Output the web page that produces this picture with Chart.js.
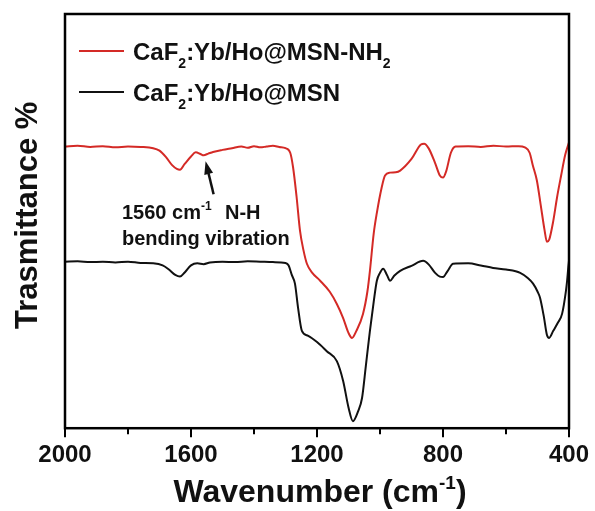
<!DOCTYPE html>
<html>
<head>
<meta charset="utf-8">
<script src="https://cdn.jsdelivr.net/npm/chart.js@4/dist/chart.umd.min.js"></script>
<style>
html,body{margin:0;padding:0;background:#fff;}
#wrap{width:595px;height:511px;position:relative;}
</style>
</head>
<body>
<div id="wrap"><canvas id="c" width="595" height="511"></canvas></div>
<script>
// ---- data (wavenumber in cm^-1, transmittance in arbitrary offset units) ----
const redWavenumbers = [2000,1960,1920,1880,1840,1800,1760,1720,1700,1680,1660,1645,1635,1620,1600,1585,1570,1560,1545,1530,1500,1470,1440,1420,1400,1380,1360,1340,1320,1300,1285,1276,1265,1254,1243,1232,1215,1190,1160,1137,1117,1100,1089,1075,1054,1040,1032,1020,1010,995,984,968,950,936,900,870,860,845,825,810,800,790,775,760,720,680,640,600,560,540,525,515,502,490,478,470,463,450,438,425,412,403,400];
const redValues      = [68.0,68.2,67.9,68.1,67.8,68.0,67.9,67.6,67.0,65.5,63.5,62.6,62.4,63.8,65.6,66.6,66.2,65.9,66.3,66.7,67.2,67.6,68.0,67.7,68.1,67.8,68.0,68.2,67.9,67.6,66.5,63.0,56.0,47.7,43.0,39.7,37.5,35.6,33.0,30.0,26.6,23.0,21.8,23.5,27.6,33.0,38.0,47.0,52.0,58.0,61.0,61.7,61.8,62.2,65.0,68.5,68.7,67.5,64.0,61.0,60.5,62.0,66.5,68.0,68.1,67.9,68.2,68.0,68.1,67.8,66.5,63.5,59.8,54.0,48.0,45.0,45.5,50.0,55.7,61.0,66.0,68.3,69.0];

const blackWavenumbers = [2000,1960,1920,1880,1840,1800,1760,1720,1690,1670,1650,1635,1620,1600,1580,1560,1540,1500,1460,1420,1380,1340,1300,1290,1280,1270,1260,1248,1228,1200,1169,1137,1117,1100,1086,1070,1057,1045,1032,1020,1010,1000,990,978,968,955,936,900,863,845,825,810,800,785,768,720,680,641,600,555,530,514,500,492,480,470,463,450,435,422,410,406,402,400];
const blackValues      = [40.2,40.3,40.1,40.2,40.0,40.2,39.9,39.8,39.3,38.3,37.0,36.6,37.6,39.3,39.8,39.6,40.0,40.2,40.1,40.3,40.2,40.1,39.9,39.3,37.0,34.9,29.0,23.5,22.3,20.8,18.6,16.2,11.4,5.0,1.7,4.0,7.3,15.0,23.5,30.5,35.6,37.5,38.5,37.0,35.6,36.8,38.0,39.2,40.4,39.5,37.5,36.6,36.5,38.0,39.7,39.8,39.3,38.7,38.3,37.5,36.2,34.9,33.0,31.5,27.0,22.5,21.8,23.5,25.5,27.6,33.0,35.6,39.0,40.4];

const xMajorTicks = [2000,1600,1200,800,400];
const xMinorTicks = [1800,1400,1000,600];
const annotationWavenumber = 1560;
const yTitle = 'Trasmittance %';

const FONT = '"Liberation Sans", Arial, sans-serif';
const RED = '#d42a26';
const BLACK = '#111111';

function toPoints(xs, ys){ return xs.map((x,i)=>({x:x,y:ys[i]})); }

function drawRich(ctx, parts, x, y){
  let cx = x;
  for (const p of parts){
    ctx.font = 'bold ' + p.size + 'px ' + FONT;
    ctx.fillText(p.t, cx, y + (p.dy||0));
    cx += ctx.measureText(p.t).width + (p.gap||0);
  }
  return cx;
}
function richWidth(ctx, parts){
  let w=0;
  for (const p of parts){ ctx.font = 'bold ' + p.size + 'px ' + FONT; w += ctx.measureText(p.t).width + (p.gap||0); }
  return w;
}

const decor = {
  id: 'decor',
  afterDraw(chart){
    const ctx = chart.ctx;
    const a = chart.chartArea;
    const xs = chart.scales.x;
    const ys = chart.scales.y;
    ctx.save();
    // frame
    ctx.strokeStyle = '#000';
    ctx.lineWidth = 2.5;
    ctx.strokeRect(a.left, a.top, a.right - a.left, a.bottom - a.top);
    // minor ticks
    ctx.lineWidth = 2;
    ctx.beginPath();
    for (const v of xMinorTicks){
      const px = Math.round(xs.getPixelForValue(v));
      ctx.moveTo(px, a.bottom); ctx.lineTo(px, a.bottom + 6);
    }
    ctx.stroke();

    ctx.fillStyle = '#111';
    ctx.textBaseline = 'alphabetic';
    ctx.textAlign = 'left';

    // legend
    const legend = [
      {color: RED, y: 51, parts: [{t:'CaF',size:24},{t:'2',size:14,dy:8},{t:':Yb/Ho@MSN-NH',size:24},{t:'2',size:14,dy:8}]},
      {color: BLACK, y: 92, parts: [{t:'CaF',size:24},{t:'2',size:14,dy:8},{t:':Yb/Ho@MSN',size:24}]}
    ];
    for (const item of legend){
      ctx.strokeStyle = item.color;
      ctx.lineWidth = 2;
      ctx.beginPath(); ctx.moveTo(79, item.y); ctx.lineTo(124, item.y); ctx.stroke();
      ctx.fillStyle = '#111';
      drawRich(ctx, item.parts, 133, item.y + 8.5);
    }

    // annotation text
    ctx.fillStyle = '#111';
    drawRich(ctx, [{t:'1560 cm',size:20},{t:'-1',size:12,dy:-9}], 122, 219);
    drawRich(ctx, [{t:'N-H',size:20}], 225, 219);
    drawRich(ctx, [{t:'bending vibration',size:20}], 122, 245);

    // arrow pointing at the 1560 feature of the red curve
    const tipX = xs.getPixelForValue(annotationWavenumber) + 2;
    const tipY = ys.getPixelForValue(redValues[redWavenumbers.indexOf(annotationWavenumber)]) + 6;
    const tailX = tipX + 8, tailY = tipY + 33;
    const ang = Math.atan2(tipY - tailY, tipX - tailX);
    ctx.strokeStyle = '#111'; ctx.lineWidth = 2.5;
    ctx.beginPath(); ctx.moveTo(tailX, tailY);
    ctx.lineTo(tipX - 10*Math.cos(ang), tipY - 10*Math.sin(ang)); ctx.stroke();
    ctx.beginPath();
    ctx.moveTo(tipX, tipY);
    ctx.lineTo(tipX - 13*Math.cos(ang) + 4.5*Math.sin(ang), tipY - 13*Math.sin(ang) - 4.5*Math.cos(ang));
    ctx.lineTo(tipX - 13*Math.cos(ang) - 4.5*Math.sin(ang), tipY - 13*Math.sin(ang) + 4.5*Math.cos(ang));
    ctx.closePath(); ctx.fill();

    // x axis title with superscript
    const tparts = [{t:'Wavenumber (cm',size:32},{t:'-1',size:19,dy:-13},{t:')',size:32}];
    const w = richWidth(ctx, tparts);
    drawRich(ctx, tparts, 320 - w/2, 502);

    // y axis title (rotated)
    ctx.save();
    ctx.translate(37, 329);
    ctx.rotate(-Math.PI/2);
    ctx.font = 'bold 31px ' + FONT;
    ctx.fillText(yTitle, 0, 0);
    ctx.restore();

    ctx.restore();
  }
};

new Chart(document.getElementById('c'), {
  type: 'line',
  data: {
    datasets: [
      { label: 'CaF2:Yb/Ho@MSN', data: toPoints(blackWavenumbers, blackValues), borderColor: BLACK, borderWidth: 2, pointRadius: 0, cubicInterpolationMode: 'monotone', fill: false },
      { label: 'CaF2:Yb/Ho@MSN-NH2', data: toPoints(redWavenumbers, redValues), borderColor: RED, borderWidth: 2, pointRadius: 0, cubicInterpolationMode: 'monotone', fill: false }
    ]
  },
  options: {
    responsive: false,
    animation: false,
    events: [],
    layout: { padding: { left: 65, right: 26, top: 14, bottom: 37 } },
    plugins: { legend: { display: false }, tooltip: { enabled: false } },
    scales: {
      x: {
        type: 'linear', reverse: true, min: 400, max: 2000,
        afterBuildTicks: (s) => { s.ticks = xMajorTicks.map(v => ({value: v})); },
        ticks: { color: '#111', padding: 4, font: { family: FONT, size: 24, weight: 'bold' }, maxRotation: 0, autoSkip: false, callback: (v) => String(v) },
        grid: { display: true, drawOnChartArea: false, drawTicks: true, tickLength: 9, color: '#000', lineWidth: 2 },
        border: { display: false }
      },
      y: {
        type: 'linear', min: 0, max: 100, display: false
      }
    }
  },
  plugins: [decor]
});
</script>
</body>
</html>
